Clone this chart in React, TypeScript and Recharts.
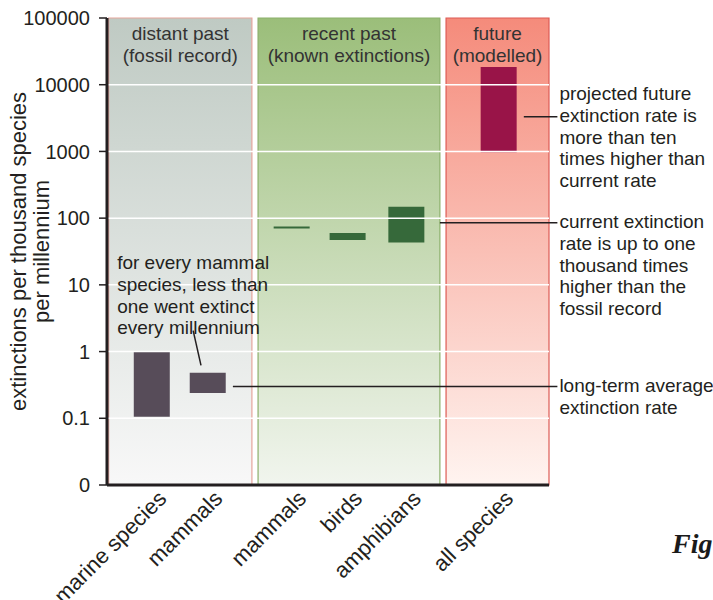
import React from 'react';
import { ComposedChart, Bar, XAxis, YAxis, ReferenceArea, ReferenceLine, Cell } from 'recharts';

// species groups along the x axis (slot = position on a numeric axis so gaps between periods show)
const categories = ['marine species', 'mammals', 'mammals', 'birds', 'amphibians', 'all species'];
const slots = [0.8, 1.8, 3.3, 4.3, 5.35, 7.0];
const lowRates = [0.105, 0.24, 70, 47, 43, 970];
const highRates = [1.0, 0.48, 75, 60, 148, 18500];
const barColors = ['#574c59', '#574c59', '#36693a', '#36693a', '#36693a', '#991448'];

// background periods
const periodNames = ['distant past', 'recent past', 'future'];
const periodNotes = ['(fossil record)', '(known extinctions)', '(modelled)'];
const periodStart = [0.03, 2.7, 6.06];
const periodEnd = [2.59, 5.95, 7.9];
const periodTop = ['#bfcac3', '#9bbe7a', '#f58b7b'];
const periodBottom = ['#f8f8f8', '#f1f5ee', '#fff4f0'];
const periodBorder = ['#e6a59c', '#8cb06b', '#dd5b55'];

const yTicks = [0.01, 0.1, 1, 10, 100, 1000, 10000, 100000];
const yTickLabels = ['0', '0.1', '1', '10', '100', '1000', '10000', '100000'];
const gridLevels = [0.1, 1, 10, 100, 1000, 10000];

const futureNote = ['projected future', 'extinction rate is', 'more than ten', 'times higher than', 'current rate'];
const currentNote = ['current extinction', 'rate is up to one', 'thousand times', 'higher than the', 'fossil record'];
const averageNote = ['long-term average', 'extinction rate'];
const mammalNote = ['for every mammal', 'species, less than', 'one went extinct', 'every millennium'];

const TEXT = '#231f20';

const rows = categories.map((name, i) => ({
  name,
  slot: slots[i],
  range: [lowRates[i], highRates[i]],
}));

const CategoryTick = ({ x, y, index }: any) => {
  const ax = x + 16;
  const ay = y + 15;
  return (
    <text x={ax} y={ay} transform={`rotate(-45, ${ax}, ${ay})`} textAnchor="end" fontSize={22} fill={TEXT}>
      {categories[index]}
    </text>
  );
};

const AxisTitle = ({ viewBox }: any) => {
  const cy = viewBox ? viewBox.y + viewBox.height / 2 : 251;
  return (
    <g>
      <text transform={`translate(18, ${cy}) rotate(-90)`} textAnchor="middle" dominantBaseline="central" fontSize={22} fill={TEXT}>
        extinctions per thousand species
      </text>
      <text transform={`translate(41, ${cy}) rotate(-90)`} textAnchor="middle" dominantBaseline="central" fontSize={22} fill={TEXT}>
        per millennium
      </text>
    </g>
  );
};

const PeriodTitle = ({ viewBox, title, note }: any) => {
  if (!viewBox) return null;
  const cx = viewBox.x + viewBox.width / 2;
  return (
    <g>
      <text x={cx} y={viewBox.y + 15} textAnchor="middle" dominantBaseline="central" fontSize={19} fill="#333">
        {title}
      </text>
      <text x={cx} y={viewBox.y + 37} textAnchor="middle" dominantBaseline="central" fontSize={19} fill="#333">
        {note}
      </text>
    </g>
  );
};

const NoteText = ({ viewBox, lines, dx = 0, dy = 0, fromEnd = true }: any) => {
  if (!viewBox) return null;
  const x0 = (fromEnd ? viewBox.x + viewBox.width : viewBox.x) + dx;
  const y0 = viewBox.y + dy;
  return (
    <g>
      {lines.map((l: string, i: number) => (
        <text key={i} x={x0} y={y0 + i * 21.7} dominantBaseline="central" fontSize={19} fill={TEXT}>
          {l}
        </text>
      ))}
    </g>
  );
};

export default function App() {
  return (
    <div
      style={{
        position: 'absolute',
        left: 0,
        top: 0,
        width: 713,
        height: 600,
        overflow: 'hidden',
        background: '#fff',
        fontFamily: '"Liberation Sans", Arial, Helvetica, sans-serif',
      }}
    >
      <ComposedChart width={713} height={600} data={rows} margin={{ top: 18, right: 164, bottom: 0, left: 0 }}>
        <defs>
          {periodNames.map((p, i) => (
            <linearGradient key={p} id={`period-${i}`} x1="0" y1="0" x2="0" y2="1">
              <stop offset="0%" stopColor={periodTop[i]} />
              <stop offset="100%" stopColor={periodBottom[i]} />
            </linearGradient>
          ))}
        </defs>
        <XAxis
          dataKey="slot"
          type="number"
          domain={[0, 7.9]}
          ticks={slots}
          interval={0}
          allowDataOverflow
          tick={<CategoryTick />}
          tickLine={false}
          tickSize={0}
          tickMargin={0}
          axisLine={{ stroke: TEXT, strokeWidth: 3 }}
          height={115}
        />
        <YAxis
          type="number"
          scale="log"
          domain={[0.01, 100000]}
          ticks={yTicks}
          interval={0}
          allowDataOverflow
          width={107}
          tickFormatter={(v: number) => yTickLabels[yTicks.indexOf(v)] ?? String(v)}
          tick={{ fontSize: 20, fill: TEXT }}
          tickSize={8}
          tickMargin={9}
          tickLine={{ stroke: TEXT, strokeWidth: 1.5 }}
          axisLine={{ stroke: TEXT, strokeWidth: 3 }}
          label={<AxisTitle />}
        />
        {periodNames.map((p, i) => (
          <ReferenceArea
            key={p}
            x1={periodStart[i]}
            x2={periodEnd[i]}
            y1={0.01}
            y2={100000}
            fill={`url(#period-${i})`}
            fillOpacity={1}
            stroke={periodBorder[i]}
            strokeWidth={1.2}
            label={<PeriodTitle title={p} note={periodNotes[i]} />}
          />
        ))}
        {gridLevels.map((v) => (
          <ReferenceLine key={v} y={v} stroke="#ffffff" strokeWidth={1.5} />
        ))}
        <ReferenceLine
          segment={[{ x: 7.45, y: 3300 }, { x: 8.05, y: 3300 }]}
          stroke={TEXT}
          strokeWidth={1.5}
          ifOverflow="visible"
          label={<NoteText lines={futureNote} dx={2} dy={-23} />}
        />
        <ReferenceLine
          segment={[{ x: 5.95, y: 85 }, { x: 8.05, y: 85 }]}
          stroke={TEXT}
          strokeWidth={1.5}
          ifOverflow="visible"
          label={<NoteText lines={currentNote} dx={2} dy={-1} />}
        />
        <ReferenceLine
          segment={[{ x: 2.25, y: 0.3 }, { x: 8.05, y: 0.3 }]}
          stroke={TEXT}
          strokeWidth={1.5}
          ifOverflow="visible"
          label={<NoteText lines={averageNote} dx={2} dy={-1} />}
        />
        <ReferenceLine
          segment={[{ x: 1.54, y: 2.06 }, { x: 1.68, y: 0.62 }]}
          stroke={TEXT}
          strokeWidth={1.5}
          ifOverflow="visible"
          label={<NoteText lines={mammalNote} fromEnd={false} dx={-76} dy={-68} />}
        />
        <Bar dataKey="range" barSize={36} isAnimationActive={false}>
          {rows.map((r, i) => (
            <Cell key={`cell-${i}`} fill={barColors[i]} />
          ))}
        </Bar>
      </ComposedChart>
      <div
        style={{
          position: 'absolute',
          left: 672,
          top: 530,
          fontFamily: '"Liberation Serif", "DejaVu Serif", serif',
          fontWeight: 'bold',
          fontStyle: 'italic',
          fontSize: 28,
          lineHeight: '28px',
          color: '#1a1a1a',
          whiteSpace: 'nowrap',
        }}
      >
        Fig
      </div>
    </div>
  );
}
